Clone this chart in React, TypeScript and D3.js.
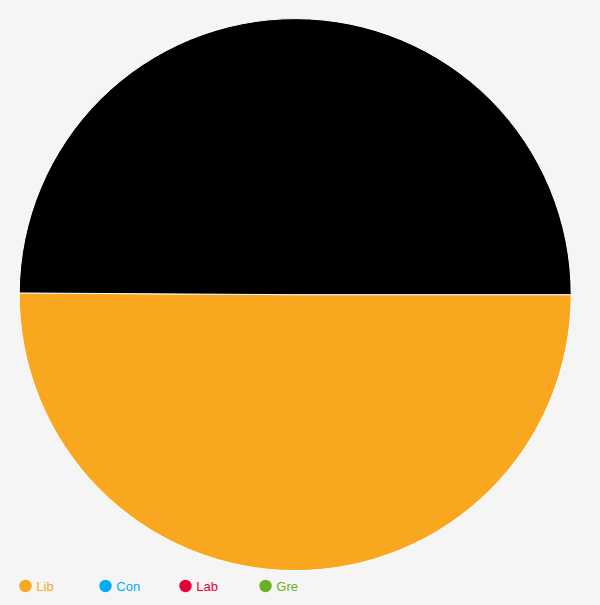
import React from "react";
import * as d3 from "d3";

const sliceLabels = ["Lib", "Other"];
const sliceValues = [50.1, 49.9];
const sliceColors = ["#F9A71E", "#000000"];

const legendLabels = ["Lib", "Con", "Lab", "Gre"];
const legendColors = ["#F9A71E", "#00AEEF", "#E4003B", "#6AB023"];

export default function App() {
  const W = 600;
  const H = 605;
  const cx = 295.2;
  const cy = 294.7;
  const r = 276;

  const pie = d3
    .pie<number>()
    .sort(null)
    .startAngle(Math.PI / 2)
    .endAngle(Math.PI / 2 + 2 * Math.PI);
  const arcs = pie(sliceValues);
  const arc = d3.arc<d3.PieArcDatum<number>>().innerRadius(0).outerRadius(r);

  const legendX = d3.scalePoint<string>().domain(legendLabels).range([25.5, 265.5]);

  return (
    <svg
      width={W}
      height={H}
      style={{ position: "absolute", left: 0, top: 0, display: "block" }}
      fontFamily="'Liberation Sans', Arial, sans-serif"
    >
      <rect width={W} height={H} fill="#f5f5f5" />
      <g transform={`translate(${cx},${cy})`}>
        {arcs.map((a, i) => (
          <path
            key={sliceLabels[i]}
            d={arc(a) || ""}
            fill={sliceColors[i]}
            stroke="#ffffff"
            strokeWidth={1}
          />
        ))}
      </g>
      <g>
        {legendLabels.map((l, i) => (
          <g key={l} transform={`translate(${legendX(l)},586)`}>
            <circle r={6.2} fill={legendColors[i]} />
            <text x={10.8} y={4.8} fontSize={13} fill={legendColors[i]}>
              {l}
            </text>
          </g>
        ))}
      </g>
    </svg>
  );
}
